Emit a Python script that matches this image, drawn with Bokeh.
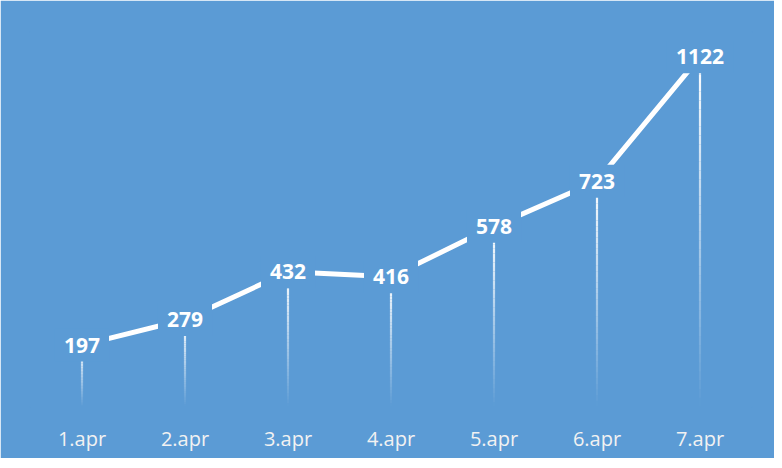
from bokeh.plotting import figure
from bokeh.models import Range1d, ColumnDataSource
from bokeh.core.properties import value
from bokeh.embed import file_html
from bokeh.resources import INLINE

days = ["1.apr", "2.apr", "3.apr", "4.apr", "5.apr", "6.apr", "7.apr"]
cases = [197, 279, 432, 416, 578, 723, 1122]
y_max = 1200

BLUE = "#5B9BD5"

p = figure(x_range=days, y_range=Range1d(0, y_max), width=774, height=458,
           output_backend="svg", toolbar_location=None, y_axis_location=None,
           min_border_left=30, min_border_right=23, min_border_top=32, min_border_bottom=52)
p.background_fill_color = BLUE
p.border_fill_color = BLUE
p.outline_line_color = BLUE
p.outline_line_width = 3
p.grid.visible = False

ax = p.xaxis[0]
ax.axis_line_color = None
ax.major_tick_line_color = None
ax.minor_tick_line_color = None
ax.major_label_text_font = "Open Sans"
ax.major_label_text_font_size = "20px"
ax.major_label_text_color = "#f2f2f2"
ax.major_label_standoff = 12

# gradient drop lines (white fading to transparent at the base)
N = 40
sx, sy0, sy1, sa = [], [], [], []
for d, v in zip(days, cases):
    for k in range(N):
        sx.append(d)
        sy0.append(v * (1 - k / N))
        sy1.append(v * (1 - (k + 1) / N))
        sa.append(1 - (k + 0.5) / N)
seg = ColumnDataSource(dict(x=sx, y0=sy0, y1=sy1, a=sa))
p.segment(x0="x", y0="y0", x1="x", y1="y1", source=seg, line_color="white",
          line_alpha="a", line_width=2.2, line_cap="butt")

src = ColumnDataSource(dict(day=days, cases=cases, label=[str(c) for c in cases]))
p.line(x="day", y="cases", source=src, line_color="white", line_width=5)
p.text(x="day", y="cases", text="label", source=src, text_align="center",
       text_baseline="middle", text_font=value("Open Sans"), text_font_style="bold",
       text_font_size="21px", text_color="white", background_fill_color=BLUE,
       padding=9)

open("out.html", "w").write(file_html(p, INLINE))
